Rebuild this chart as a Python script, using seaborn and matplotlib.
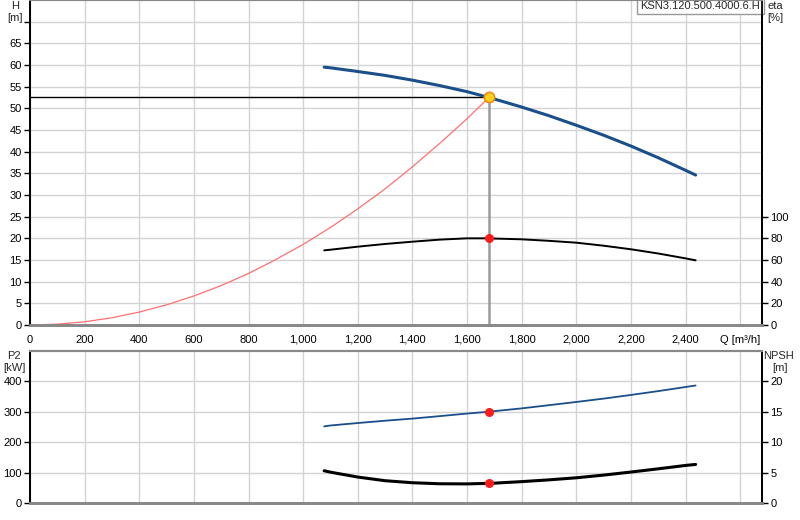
import matplotlib
matplotlib.use("Agg")
import matplotlib.pyplot as plt
import seaborn as sns
import pandas as pd

sns.set_style("white")
plt.rcParams['font.family'] = ['Liberation Sans', 'DejaVu Sans']

# ---- data ----
q_pump = [1077, 1100, 1200, 1300, 1400, 1500, 1600, 1680, 1700, 1800, 1900,
          2000, 2100, 2200, 2300, 2400, 2437]
h_pump = [59.5, 59.35, 58.5, 57.6, 56.5, 55.25, 53.85, 52.5, 52.15, 50.3, 48.3,
          46.1, 43.8, 41.3, 38.6, 35.7, 34.6]
eta_pump = [68.9, 69.5, 72.3, 74.8, 76.9, 78.8, 80.0, 80.0, 79.8, 79.1, 77.7,
            76.0, 73.2, 69.9, 66.0, 61.5, 59.7]
p2_pump = [252, 255, 263, 270.6, 277.5, 285.6, 294, 300, 302, 311, 321.5,
           332, 343, 355, 367.6, 381, 386]
npsh_pump = [5.33, 5.1, 4.3, 3.7, 3.37, 3.2, 3.18, 3.27, 3.3, 3.55, 3.84,
             4.18, 4.62, 5.12, 5.65, 6.2, 6.37]

q_sys = [0, 100, 200, 300, 400, 500, 600, 700, 800, 900, 1000, 1100, 1200,
         1300, 1400, 1500, 1600, 1680]
h_sys = [0.0, 0.19, 0.74, 1.67, 2.98, 4.65, 6.7, 9.1, 11.9, 15.1, 18.6, 22.5,
         26.8, 31.4, 36.5, 41.9, 47.6, 52.5]

q_duty = 1680
h_duty = 52.5
eta_duty = 80.0
p2_duty = 300
npsh_duty = 3.27

x_ticks = list(range(0, 2601, 200))
x_labels = [f"{v:,}" for v in x_ticks[:-1]] + ["Q [m³/h]"]
h_ticks = list(range(0, 66, 5))
eta_ticks = list(range(0, 101, 20))
p2_ticks = [0, 100, 200, 300, 400]
npsh_ticks = [0, 5, 10, 15, 20]
title_label = "KSN3.120.500.4000.6.H"

blue = "#1b4f8a"
grid_c = "#d4d4d4"

df_pump = pd.DataFrame({"Q": q_pump, "H": h_pump, "eta": eta_pump,
                        "P2": p2_pump, "NPSH": npsh_pump})
df_sys = pd.DataFrame({"Q": q_sys, "H": h_sys})

fig = plt.figure(figsize=(8, 5.2), dpi=100)
ax1 = fig.add_axes([30/800, 1-325/520, (762-30)/800, 325/520])
ax1b = ax1.twinx()
ax2 = fig.add_axes([30/800, 1-503.3/520, (762-30)/800, (503.3-350.7)/520])
ax2b = ax2.twinx()

XMAX = 2680
for a in (ax1, ax2):
    a.set_xlim(0, XMAX)
    a.set_xticks(x_ticks)
    a.grid(True, color=grid_c, linewidth=1.0)
    a.set_axisbelow(True)
ax1.set_ylim(0, 75)
ax1.set_yticks(list(range(0, 71, 5)))
ax1.set_yticklabels([str(v) for v in h_ticks] + [""])
ax1b.set_ylim(0, 300)
ax1b.set_yticks(eta_ticks)
ax2.set_ylim(0, 500)
ax2.set_yticks(p2_ticks)
ax2b.set_ylim(0, 25)
ax2b.set_yticks(npsh_ticks)

ax1.set_xticklabels(x_labels)
ax2.set_xticklabels([])

for a in (ax1, ax1b, ax2, ax2b):
    a.tick_params(labelsize=8, length=4, width=1, colors="black", pad=2)
    a.spines['top'].set_color("#888888")
    a.spines['bottom'].set_color("#888888")
    a.spines['bottom'].set_linewidth(2)
    a.spines['top'].set_linewidth(1.5)
    a.spines['left'].set_color("black")
    a.spines['right'].set_color("black")
    a.spines['left'].set_linewidth(1.3)
    a.spines['right'].set_linewidth(1.3)
ax1.tick_params(axis='x', length=4, pad=3)
ax2.tick_params(axis='x', length=0)

# top panel curves
ax1.plot([0, q_duty], [h_duty, h_duty], color="black", lw=1.0, zorder=3)
ax1.plot([q_duty, q_duty], [0, h_duty], color="#9a9a9a", lw=1.8, zorder=3)
sns.lineplot(data=df_sys, x="Q", y="H", ax=ax1, color="#ff7070", lw=0.9,
             sort=False, estimator=None, zorder=4)
sns.lineplot(data=df_pump, x="Q", y="H", ax=ax1, color=blue, lw=2.2,
             sort=False, estimator=None, zorder=5)
ax1.scatter([q_duty], [h_duty], s=55, color="#ffd21a", edgecolor="#f08a1a",
            linewidth=1.2, zorder=6)
sns.lineplot(data=df_pump, x="Q", y="eta", ax=ax1b, color="black", lw=1.4,
             sort=False, estimator=None, zorder=5)
ax1b.scatter([q_duty], [eta_duty], s=30, color="#ff1a1a", zorder=6)

# bottom panel curves
sns.lineplot(data=df_pump, x="Q", y="P2", ax=ax2, color=blue, lw=1.3,
             sort=False, estimator=None, zorder=5)
ax2.scatter([q_duty], [p2_duty], s=30, color="#ff1a1a", zorder=6)
sns.lineplot(data=df_pump, x="Q", y="NPSH", ax=ax2b, color="black", lw=2.2,
             sort=False, estimator=None, zorder=5)
ax2b.scatter([q_duty], [npsh_duty], s=30, color="#ff1a1a", zorder=6)
for a in (ax1, ax1b, ax2, ax2b):
    a.set_xlabel("")
    a.set_ylabel("")

# axis unit labels
fs = 8
fig.text(15/800, 1-6/520, "H", ha="center", va="center", fontsize=fs)
fig.text(15/800, 1-18/520, "[m]", ha="center", va="center", fontsize=fs)
fig.text(767/800, 1-6/520, "eta", ha="left", va="center", fontsize=fs)
fig.text(767/800, 1-18/520, "[%]", ha="left", va="center", fontsize=fs)
fig.text(14/800, 1-356/520, "P2", ha="center", va="center", fontsize=fs)
fig.text(14/800, 1-368/520, "[kW]", ha="center", va="center", fontsize=fs)
fig.text(778/800, 1-356/520, "NPSH", ha="center", va="center", fontsize=fs)
fig.text(780/800, 1-368/520, "[m]", ha="center", va="center", fontsize=fs)

# title box
ax1.text(0.9975, 0.997, title_label, transform=ax1.transAxes, ha="right",
         va="top", fontsize=8, zorder=10,
         bbox=dict(boxstyle="square,pad=0.3", facecolor="white",
                   edgecolor="#999999", linewidth=1))

fig.savefig("out.png", dpi=100)
